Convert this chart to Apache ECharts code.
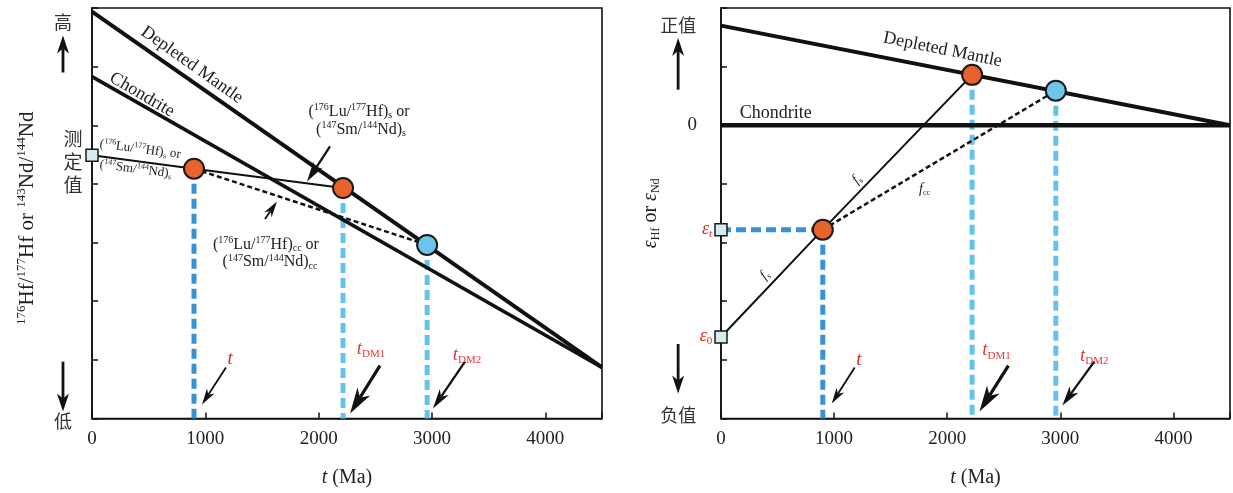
<!DOCTYPE html>
<html><head><meta charset="utf-8">
<script src="https://cdn.jsdelivr.net/npm/echarts@6/dist/echarts.min.js"></script>
<style>html,body{margin:0;padding:0;background:#fff}#c{width:1233px;height:493px}</style>
</head><body><div id="c"></div>
<script>
const SERIF = "'Liberation Serif','Times New Roman',serif";
const CJK = "'Noto Sans CJK SC','Noto Sans CJK JP',sans-serif";

// ---- axes ----
const xTicks = [0, 1000, 2000, 3000, 4000];
const xMax = 4500;
const leftYRange = [0, 7];
const rightYRange = [-5, 2];
const rightYLabels = [0];

// ---- left panel: 176Hf/177Hf or 143Nd/144Nd (relative units) ----
const leftDepletedMantle = [[0, 6.94], [4500, 0.87]];
const leftChondrite = [[0, 5.83], [4500, 0.87]];
const leftMeasured = [0, 4.49];
const leftT = [900, 4.26];
const leftTDM1 = [2215, 3.93];
const leftTDM2 = [2957, 2.96];

// ---- right panel: εHf or εNd (relative units) ----
const rightDepletedMantle = [[0, 1.70], [4500, 0]];
const rightChondrite = [[0, 0], [4500, 0]];
const rightEps0 = [0, -3.61];
const rightEpsT = [0, -1.78];
const rightT = [900, -1.78];
const rightTDM1 = [2220, 0.86];
const rightTDM2 = [2960, 0.59];

// ---- annotation anchors (data units) ----
const leftArrows = [
  [1182, 0.87, 971, 0.24, 'thin'],
  [2541, 0.90, 2277, 0.085, 'thick'],
  [3291, 0.97, 3009, 0.17, 'mid'],
  [2100, 4.64, 1897, 4.04, 'mid'],
  [1526, 3.40, 1632, 3.70, 'thin'],
  [-256, 5.90, -256, 6.53, 'big'],
  [-256, 0.97, -256, 0.12, 'big']
];
const rightArrows = [
  [1182, -4.13, 979, -4.745, 'thin'],
  [2541, -4.10, 2285, -4.88, 'thick'],
  [3300, -4.03, 3018, -4.78, 'mid'],
  [-379, 0.607, -379, 1.49, 'big'],
  [-379, -3.73, -379, -4.575, 'big']
];

const chart = echarts.init(document.getElementById('c'), null, {renderer: 'canvas'});

function richSet(size, color, italic, colorKey) {
  const ck = colorKey || 'color';
  const base = {fontFamily: SERIF, fontSize: size, lineHeight: Math.round(size * 1.15), verticalAlign: 'middle'};
  base[ck] = color;
  if (italic) base.fontStyle = 'italic';
  const ps = Math.round(size * 0.6);
  const p = {fontFamily: SERIF, fontSize: ps, lineHeight: ps, verticalAlign: 'top'}; p[ck] = color;
  const b = {fontFamily: SERIF, fontSize: ps, lineHeight: Math.max(4, Math.round(ps * 0.55)), verticalAlign: 'bottom'}; b[ck] = color;
  const bi = Object.assign({}, b, {fontStyle: 'italic'});
  const i = Object.assign({}, base, {fontStyle: 'italic'});
  return {n: base, p, b, bi, i};
}
function rt(s) {
  return s.split(/(\^\{[^}]*\}|_\{[^}]*\}|~\{[^}]*\}|\*\{[^}]*\})/).filter(x => x).map(x => {
    if (x[0] === '^') return '{p|' + x.slice(2, -1) + '}';
    if (x[0] === '_') return '{b|' + x.slice(2, -1) + '}';
    if (x[0] === '~') return '{bi|' + x.slice(2, -1) + '}';
    if (x[0] === '*') return '{i|' + x.slice(2, -1) + '}';
    return '{n|' + x + '}';
  }).join('');
}

function xAxisCfg(gi) {
  return {
    type: 'value', gridIndex: gi, min: 0, max: xMax, interval: 1000,
    axisLine: {onZero: false, lineStyle: {color: '#111', width: 1.6}},
    axisTick: {inside: true, length: 6, lineStyle: {color: '#111', width: 1.5}},
    axisLabel: {margin: 11, color: '#222', fontFamily: SERIF, fontSize: 19,
      formatter: v => xTicks.includes(v) ? String(v) : ''},
    splitLine: {show: false},
    name: rt('*{t} (Ma)'), nameLocation: 'middle', nameGap: 48,
    nameTextStyle: {rich: richSet(20, '#222', false)}
  };
}
function yAxisCfg(gi, range, name, gap, labels) {
  return {
    type: 'value', gridIndex: gi, min: range[0], max: range[1], interval: 1,
    axisLine: {onZero: false, lineStyle: {color: '#111', width: 1.6}},
    axisTick: {inside: true, length: 6, lineStyle: {color: '#111', width: 1.5}},
    axisLabel: {show: !!labels, margin: 24, color: '#222', fontFamily: SERIF, fontSize: 19,
      formatter: v => (labels && labels.includes(v)) ? String(v) : ''},
    splitLine: {show: false},
    name: name.text, nameLocation: 'middle', nameRotate: 90, nameGap: gap,
    nameTextStyle: Object.assign({rich: name.rich}, name.extra || {})
  };
}

function ln(gi, data, color, width, dash, z) {
  return {type: 'line', xAxisIndex: gi, yAxisIndex: gi, data, symbol: 'none', silent: true,
    animation: false, z: z || 2, lineStyle: {color, width, type: dash || 'solid', cap: 'butt'}};
}
function pts(gi, data, symbol, size, fill, bw, z) {
  return {type: 'scatter', xAxisIndex: gi, yAxisIndex: gi, data, symbol, symbolSize: size,
    silent: true, animation: false, z: z || 5,
    itemStyle: {color: fill, borderColor: '#1a1a1a', borderWidth: bw, opacity: 1}};
}

const BLUE_T = '#3990d3', BLUE_DM = '#62c4ee';
const ORANGE = '#e8632b', LBLUE = '#6cc5ec', SQ = '#d7ecee';

const series = [
  // left
  ln(0, leftDepletedMantle, '#111', 4),
  ln(0, leftChondrite, '#111', 3.5),
  ln(0, [[leftT[0], leftT[1]], [leftT[0], leftYRange[0]]], BLUE_T, 5, [10, 5], 1),
  ln(0, [[leftTDM1[0], leftTDM1[1]], [leftTDM1[0], leftYRange[0]]], BLUE_DM, 5, [10, 5], 1),
  ln(0, [[leftTDM2[0], leftTDM2[1]], [leftTDM2[0], leftYRange[0]]], BLUE_DM, 5, [10, 5], 1),
  ln(0, [leftMeasured, leftT, leftTDM1], '#111', 2),
  ln(0, [leftT, leftTDM2], '#111', 2.5, [5, 3]),
  pts(0, [leftMeasured], 'rect', 12, SQ, 1.5),
  pts(0, [leftT, leftTDM1], 'circle', 20, ORANGE, 2),
  pts(0, [leftTDM2], 'circle', 20, LBLUE, 2),
  // right
  ln(1, rightDepletedMantle, '#111', 4),
  ln(1, rightChondrite, '#111', 4.5),
  ln(1, [rightEpsT, rightT], BLUE_T, 5, [10, 5], 1),
  ln(1, [[rightT[0], rightT[1]], [rightT[0], rightYRange[0]]], BLUE_T, 5, [10, 5], 1),
  ln(1, [[rightTDM1[0], rightTDM1[1]], [rightTDM1[0], rightYRange[0]]], BLUE_DM, 5, [10, 5], 1),
  ln(1, [[rightTDM2[0], rightTDM2[1]], [rightTDM2[0], rightYRange[0]]], BLUE_DM, 5, [10, 5], 1),
  ln(1, [rightEps0, rightT, rightTDM1], '#111', 2),
  ln(1, [rightT, rightTDM2], '#111', 2.5, [5, 3]),
  pts(1, [rightEps0, rightEpsT], 'rect', 12, SQ, 1.5),
  pts(1, [rightT, rightTDM1], 'circle', 20, ORANGE, 2),
  pts(1, [rightTDM2], 'circle', 20, LBLUE, 2)
];

chart.setOption({
  animation: false,
  backgroundColor: '#fff',
  grid: [
    {left: 92, top: 8, width: 510, height: 412, show: true, borderColor: '#111', borderWidth: 1.6, backgroundColor: 'transparent'},
    {left: 721, top: 8, width: 510, height: 412, show: true, borderColor: '#111', borderWidth: 1.6, backgroundColor: 'transparent'}
  ],
  xAxis: [xAxisCfg(0), xAxisCfg(1)],
  yAxis: [
    yAxisCfg(0, leftYRange, {text: rt('^{176}Hf/^{177}Hf or ^{143}Nd/^{144}Nd'), rich: richSet(21, '#222', false), extra: {padding: [0, 10, 0, 0]}}, 53, null),
    yAxisCfg(1, rightYRange, {text: rt('*{ε}_{Hf} or *{ε}_{Nd}'), rich: richSet(20, '#222', false)}, 59, rightYLabels)
  ],
  series
});

// ---- annotations (positioned through the axes) ----
function px(gi, p) { return chart.convertToPixel({gridIndex: gi}, p); }
const AW = {
  thin: {lw: 1.8, hl: 16, hw: 9},
  mid: {lw: 2.3, hl: 20, hw: 11},
  thick: {lw: 3.2, hl: 26, hw: 15},
  big: {lw: 2.8, hl: 18, hw: 12}
};
function arrowEls(gi, a) {
  const st = AW[a[4]];
  const p0 = px(gi, [a[0], a[1]]), p1 = px(gi, [a[2], a[3]]);
  const dx = p1[0] - p0[0], dy = p1[1] - p0[1], L = Math.hypot(dx, dy);
  const ux = dx / L, uy = dy / L, nx = -uy, ny = ux;
  const bx = p1[0] - ux * st.hl, by = p1[1] - uy * st.hl;
  const mx = p1[0] - ux * st.hl * 0.72, my = p1[1] - uy * st.hl * 0.72;
  return [
    {type: 'line', silent: true, z: 20, shape: {x1: p0[0], y1: p0[1], x2: mx, y2: my}, style: {stroke: '#111', lineWidth: st.lw}},
    {type: 'polygon', silent: true, z: 20, shape: {points: [[p1[0], p1[1]], [bx + nx * st.hw / 2, by + ny * st.hw / 2], [mx, my], [bx - nx * st.hw / 2, by - ny * st.hw / 2]]}, style: {fill: '#111'}}
  ];
}
function txt(gi, p, text, rich, rot, align) {
  const q = px(gi, p);
  return {type: 'text', silent: true, z: 20, x: q[0], y: q[1], rotation: rot || 0,
    style: {text, rich, x: 0, y: 0, align: align || 'center', verticalAlign: 'middle', fill: '#222', font: '16px ' + SERIF}};
}
function cjk(gi, p, text, size, lh) {
  const q = px(gi, p);
  return {type: 'text', silent: true, z: 20, x: q[0], y: q[1],
    style: {text, x: 0, y: 0, align: 'center', verticalAlign: 'middle', fill: '#333', font: size + 'px ' + CJK, lineHeight: lh || size * 1.2}};
}

const RED = '#e0261f', RED2 = '#e0393e';
const gLab = richSet(16, '#222', false, 'fill');
const gSmall = richSet(13, '#222', false, 'fill');
const gName = richSet(18, '#222', false, 'fill');
const gRedT = richSet(19, RED, true, 'fill');
const gRedDM = richSet(19, RED2, true, 'fill');
const gEps = richSet(18, RED, true, 'fill');
const gF = richSet(14, '#222', true, 'fill');

const graphic = [];
leftArrows.forEach(a => graphic.push(...arrowEls(0, a)));
rightArrows.forEach(a => graphic.push(...arrowEls(1, a)));

// left texts
graphic.push(txt(0, [1218, 1.02], rt('t'), gRedT));
graphic.push(txt(0, [2462, 1.19], '{n|t}{b|DM1}', gRedDM));
graphic.push(txt(0, [3309, 1.09], '{n|t}{b|DM2}', gRedDM));
graphic.push(txt(0, [2356, 5.23], rt('(^{176}Lu/^{177}Hf)_{s} or'), gLab));
graphic.push(txt(0, [2374, 4.93], rt('(^{147}Sm/^{144}Nd)_{s}'), gLab));
graphic.push(txt(0, [1535, 2.97], rt('(^{176}Lu/^{177}Hf)_{cc} or'), gLab));
graphic.push(txt(0, [1571, 2.67], rt('(^{147}Sm/^{144}Nd)_{cc}'), gLab));
graphic.push(txt(0, [425, 4.59], rt('(^{176}Lu/^{177}Hf)_{s} or'), gSmall, -0.13));
graphic.push(txt(0, [385, 4.25], rt('(^{147}Sm/^{144}Nd)_{s}'), gSmall, -0.13));
graphic.push(txt(0, [882, 6.03], rt('Depleted Mantle'), gName, -0.616));
graphic.push(txt(0, [441, 5.52], rt('Chondrite'), gName, -0.53));
graphic.push(cjk(0, [-256, 6.76], '高', 18));
graphic.push(cjk(0, [-256, -0.05], '低', 18));
graphic.push(cjk(0, [-168, 4.37], '测\n定\n值', 19, 23));

// right texts
graphic.push(cjk(1, [-379, 1.71], '正值', 18));
graphic.push(cjk(1, [-379, -4.95], '负值', 18));
graphic.push(txt(1, [-124, -1.77], '{n|ε}{bi|t}', gEps));
graphic.push(txt(1, [-132, -3.59], '{n|ε}{b|0}', gEps));
graphic.push(txt(1, [1218, -4.01], rt('t'), gRedT));
graphic.push(txt(1, [2435, -3.84], '{n|t}{b|DM1}', gRedDM));
graphic.push(txt(1, [3300, -3.93], '{n|t}{b|DM2}', gRedDM));
graphic.push(txt(1, [1959, 1.29], rt('Depleted Mantle'), gName, -0.2));
graphic.push(txt(1, [485, 0.20], rt('Chondrite'), gName));
graphic.push(txt(1, [1200, -0.92], '{n|f}{b|s}', gF, 0.8));
graphic.push(txt(1, [388, -2.55], '{n|f}{b|s}', gF, 0.8));
graphic.push(txt(1, [1800, -1.09], '{n|f}{b|cc}', gF));

chart.setOption({graphic});
</script>
</body></html>
